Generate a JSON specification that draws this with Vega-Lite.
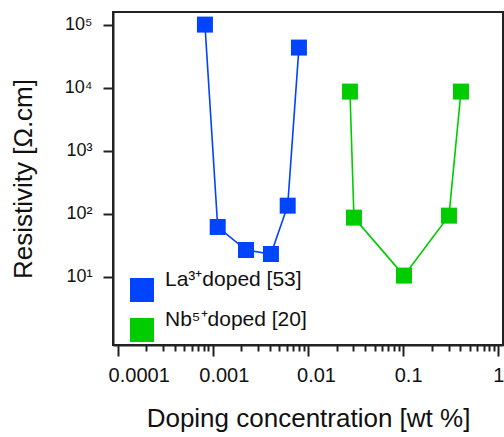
{
  "$schema": "https://vega.github.io/schema/vega-lite/v6.json",
  "width": 390,
  "height": 333,
  "autosize": {"type": "none"},
  "padding": {"left": 113, "top": 12, "right": 1, "bottom": 92},
  "background": "white",
  "config": {
    "font": "Liberation Sans",
    "view": {"stroke": "#222222", "strokeWidth": 2},
    "axis": {
      "domainColor": "#222222",
      "domainWidth": 2,
      "tickColor": "#222222",
      "tickWidth": 2,
      "grid": false,
      "labelColor": "#111111",
      "titleColor": "#111111",
      "labelFont": "Liberation Sans",
      "titleFont": "Liberation Sans",
      "titleFontWeight": "normal"
    }
  },
  "resolve": {"axis": {"x": "independent"}},
  "data": {
    "values": [
      {"series": "La³⁺doped [53]", "conc": 0.000826, "rho": 100000},
      {"series": "La³⁺doped [53]", "conc": 0.001125, "rho": 61.5},
      {"series": "La³⁺doped [53]", "conc": 0.00223, "rho": 26.5},
      {"series": "La³⁺doped [53]", "conc": 0.00408, "rho": 22.9},
      {"series": "La³⁺doped [53]", "conc": 0.00612, "rho": 134},
      {"series": "La³⁺doped [53]", "conc": 0.00803, "rho": 43200},
      {"series": "Nb⁵⁺doped [20]", "conc": 0.0276, "rho": 8650},
      {"series": "Nb⁵⁺doped [20]", "conc": 0.0304, "rho": 86.5},
      {"series": "Nb⁵⁺doped [20]", "conc": 0.102, "rho": 10.4},
      {"series": "Nb⁵⁺doped [20]", "conc": 0.303, "rho": 93},
      {"series": "Nb⁵⁺doped [20]", "conc": 0.405, "rho": 8650}
    ]
  },
  "layer": [
    {
      "mark": {"type": "line", "strokeWidth": 1.6},
      "encoding": {
        "x": {
          "field": "conc", "type": "quantitative",
          "scale": {"type": "log", "domain": [0.0000893, 1.12], "nice": false},
          "axis": {
            "orient": "bottom",
            "values": [0.0001, 0.001, 0.01, 0.1, 1],
            "format": "~g",
            "labelOffset": {
              "condition": [
                {"test": "datum.value < 0.0005", "value": 21},
                {"test": "datum.value < 0.005", "value": 11},
                {"test": "datum.value < 0.05", "value": 8},
                {"test": "datum.value < 0.5", "value": 5}
              ],
              "value": 0
            },
            "tickSize": 11,
            "labelFontSize": 20,
            "labelPadding": 9,
            "labelOverlap": false,
            "labelFlush": false,
            "title": "Doping concentration [wt %]",
            "titleFontSize": 26,
            "titlePadding": 20
          }
        },
        "y": {
          "field": "rho", "type": "quantitative",
          "scale": {"type": "log", "domain": [0.824, 158500], "nice": false},
          "axis": {
            "values": [10, 100, 1000, 10000, 100000],
            "labelExpr": "datum.value == 10 ? '10¹' : datum.value == 100 ? '10²' : datum.value == 1000 ? '10³' : datum.value == 10000 ? '10⁴' : '10⁵'",
            "tickSize": 10,
            "labelFontSize": 18,
            "labelPadding": 11,
            "title": "Resistivity [Ω.cm]",
            "titleFontSize": 26,
            "titlePadding": 28
          }
        },
        "color": {
          "field": "series", "type": "nominal",
          "scale": {"range": ["#0044ff", "#00cc00"]}
        },
        "detail": {"field": "series"}
      }
    },
    {
      "mark": {"type": "point", "shape": "square", "filled": true, "opacity": 1, "size": 256},
      "encoding": {
        "x": {
          "field": "conc", "type": "quantitative",
          "axis": {
            "orient": "bottom",
            "values": [0.0002, 0.0003, 0.0004, 0.0005, 0.0006, 0.0007, 0.0008, 0.0009, 0.002, 0.003, 0.004, 0.005, 0.006, 0.007, 0.008, 0.009, 0.02, 0.03, 0.04, 0.05, 0.06, 0.07, 0.08, 0.09, 0.2, 0.3, 0.4, 0.5, 0.6, 0.7, 0.8, 0.9],
            "labels": false,
            "domain": false,
            "tickSize": 6,
            "title": null
          }
        },
        "y": {"field": "rho", "type": "quantitative"},
        "color": {
          "field": "series", "type": "nominal",
          "legend": {
            "title": null,
            "orient": "none",
            "legendX": 17,
            "legendY": 266,
            "padding": 0,
            "rowPadding": 7,
            "symbolType": "square",
            "symbolSize": 576,
            "symbolStrokeWidth": 0,
            "symbolOpacity": 1,
            "labelFontSize": 21,
            "labelFont": "Liberation Sans",
            "labelColor": "#111111",
            "labelOffset": 11,
            "labelBaseline": "bottom",
            "labelLimit": 300
          }
        }
      }
    }
  ]
}
